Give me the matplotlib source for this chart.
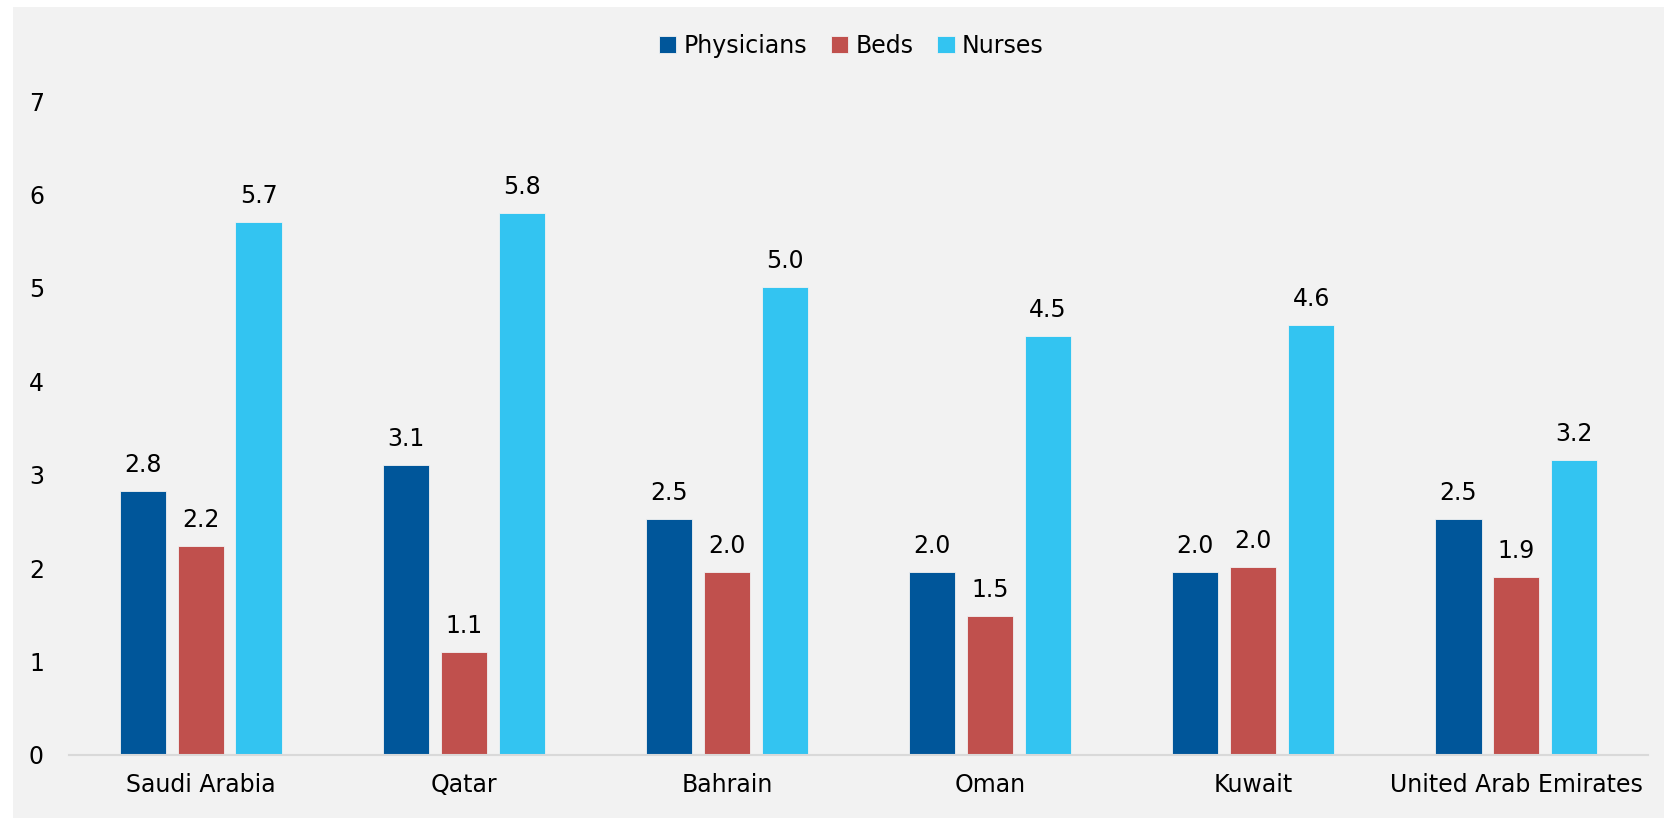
import matplotlib.pyplot as plt
import matplotlib.patches as mpatches
import numpy as np

countries = ["Saudi Arabia", "Qatar", "Bahrain", "Oman", "Kuwait", "United Arab Emirates"]
physicians = [2.83, 3.1, 2.53, 1.96, 1.96, 2.53]
beds = [2.24, 1.1, 1.96, 1.49, 2.01, 1.9]
nurses = [5.7, 5.8, 5.01, 4.48, 4.6, 3.16]
labels_phys = ["2.8", "3.1", "2.5", "2.0", "2.0", "2.5"]
labels_beds = ["2.2", "1.1", "2.0", "1.5", "2.0", "1.9"]
labels_nurs = ["5.7", "5.8", "5.0", "4.5", "4.6", "3.2"]

colors = ["#00569A", "#C0504D", "#33C4F1"]
W, H = 1665, 818
FS = 17

fig = plt.figure(figsize=(W / 100, H / 100), dpi=100, facecolor="white")
# grey panel behind the chart
fig.patches.append(mpatches.Rectangle((13 / W, 0), 1 - 13 / W, 1 - 7 / H,
                                      transform=fig.transFigure, facecolor="#F2F2F2",
                                      edgecolor="none", zorder=-10))
ax = fig.add_axes([69 / W, 1 - 755 / H, (1648 - 69) / W, (755 - 101) / H])
ax.set_facecolor("none")

x = np.arange(len(countries)) + 0.5
off = 0.22
bw = 0.175
series = [("Physicians", physicians, labels_phys), ("Beds", beds, labels_beds),
          ("Nurses", nurses, labels_nurs)]
for i, (name, vals, labs) in enumerate(series):
    bars = ax.bar(x + (i - 1) * off, vals, bw, color=colors[i], label=name,
                  edgecolor="#f2f2f2", linewidth=0.6)
    for b, t in zip(bars, labs):
        ax.text(b.get_x() + b.get_width() / 2, b.get_height() + 0.15, t,
                ha="center", va="bottom", fontsize=FS, color="black")

ax.set_xlim(0, len(countries))
ax.set_ylim(0, 7)
ax.set_xticks(x)
ax.set_xticklabels(countries, fontsize=FS)
ax.set_yticks(range(8))
ax.set_yticklabels([str(v) for v in range(8)], fontsize=FS)
ax.tick_params(axis="both", length=0)
ax.tick_params(axis="x", pad=13)
ax.tick_params(axis="y", pad=18)
for s in ["top", "right", "left"]:
    ax.spines[s].set_visible(False)
ax.spines["bottom"].set_color("#D9D9D9")
ax.spines["bottom"].set_linewidth(1.5)

ax.legend(loc="center", bbox_to_anchor=(851 / W, (818 - 46) / H), bbox_transform=fig.transFigure,
          ncol=3, frameon=False, fontsize=FS, handlelength=0.75, handleheight=0.75,
          handletextpad=0.3, columnspacing=1.0)

fig.savefig("out.png", dpi=100, facecolor="white")
